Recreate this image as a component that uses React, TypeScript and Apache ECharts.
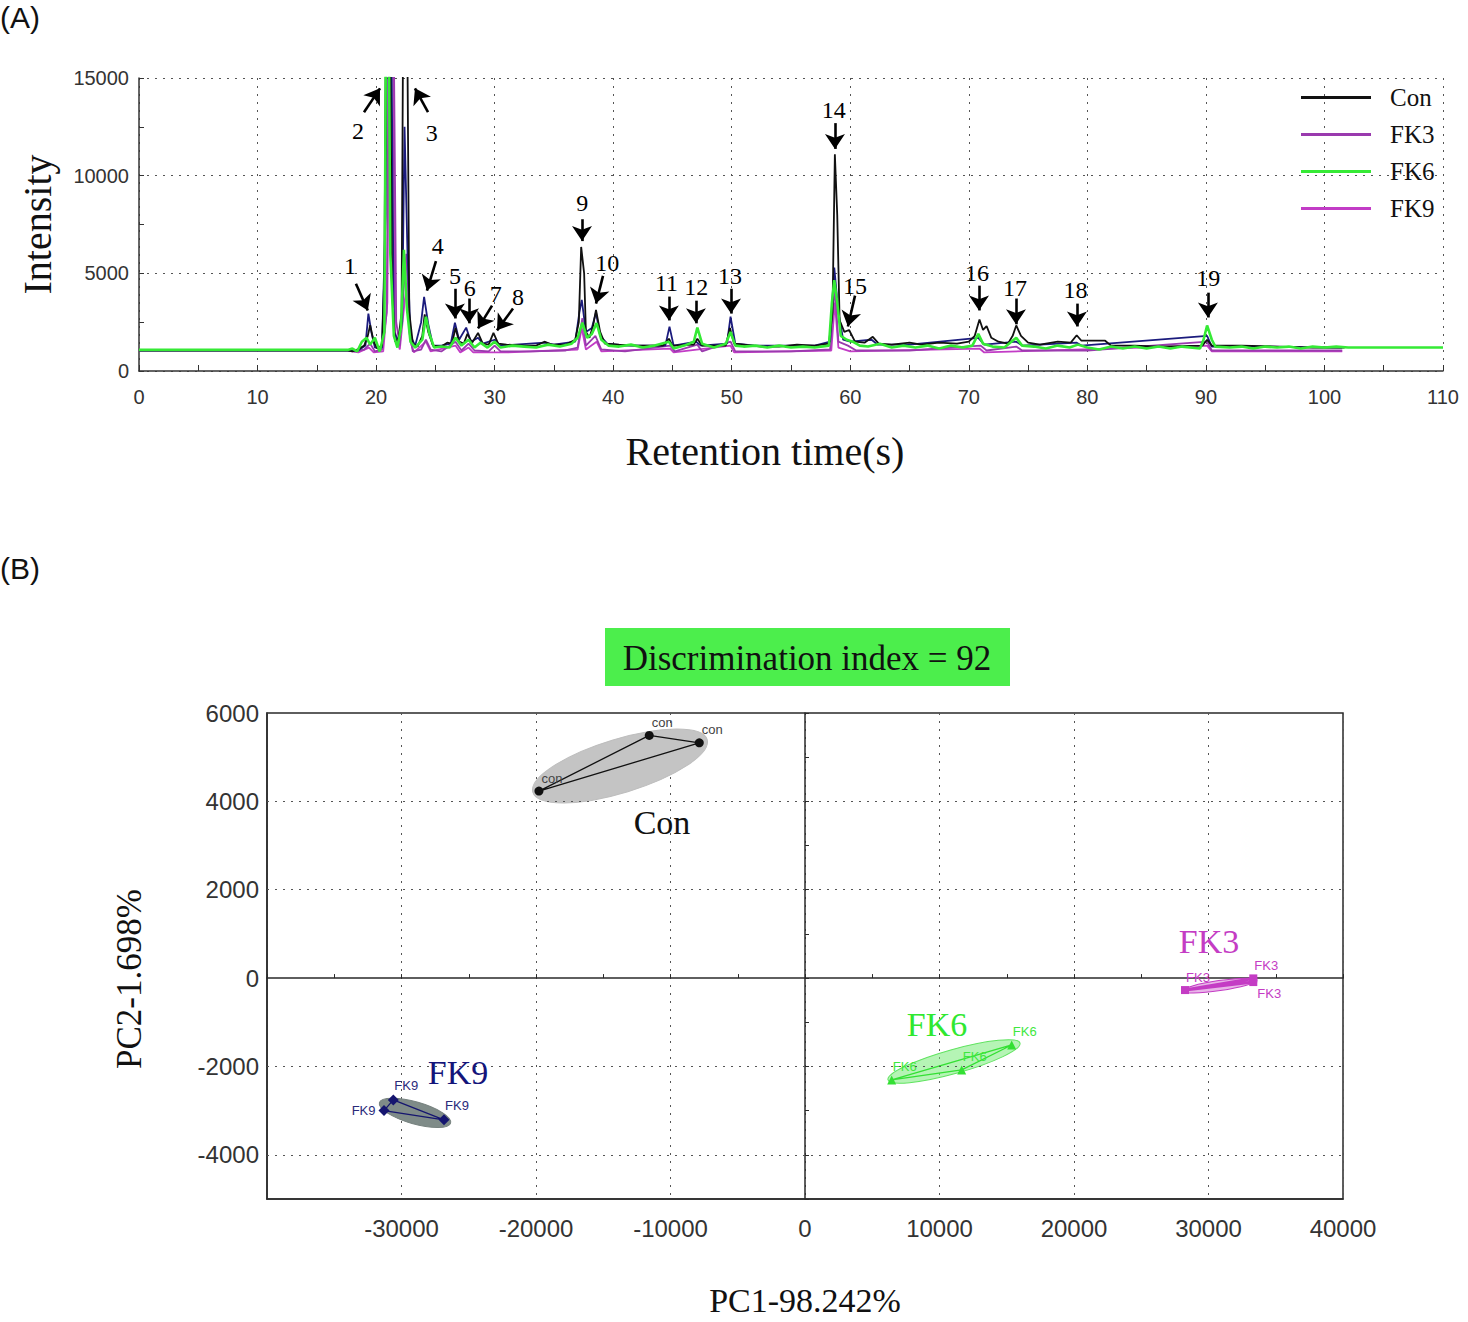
import React, { useEffect, useRef } from "react";
import * as echarts from "echarts";

// ---------------- (A) chromatogram data ----------------
const legendNames = ["Con", "FK3", "FK6", "FK9"];
const xTicks = [0, 110, 10];
const yTicks = [0, 15000, 5000];

const conTrace = [
  [0, 1060], [17.6, 1060], [18.0, 1000], [18.6, 1150], [19.0, 1300], [19.3, 1800], [19.5, 2350], [19.8, 1500], [20.1, 1150], [20.5, 1300],
  [20.7, 5000], [20.85, 20000], [21.15, 20000], [21.35, 4000], [21.6, 1500], [21.9, 1700], [22.15, 3000], [22.3, 20000], [22.6, 20000], [22.8, 3000],
  [23.1, 1400], [23.5, 1250], [23.9, 1800], [24.1, 2900], [24.4, 2000], [24.8, 1300], [25.5, 1250], [26.0, 1450], [26.4, 1400], [26.7, 2200],
  [27.0, 1500], [27.4, 1400], [27.7, 1900], [28.1, 1450], [28.6, 1950], [29.0, 1400], [29.5, 1350], [29.9, 1950], [30.3, 1400], [31.0, 1350],
  [32.5, 1300], [33.5, 1300], [34.2, 1500], [34.8, 1350], [36.0, 1350], [36.8, 1600], [37.1, 2500], [37.3, 6350], [37.55, 5000], [37.7, 2000],
  [38.0, 1700], [38.3, 2300], [38.55, 3130], [38.9, 2000], [39.3, 1400], [40.5, 1350], [42, 1300], [44.2, 1300], [44.7, 1650], [45.0, 1300],
  [46.8, 1350], [47.1, 1650], [47.5, 1300], [49.5, 1300], [49.85, 2200], [50.2, 1400], [51, 1350], [52.5, 1250], [54, 1250], [55.5, 1350],
  [57, 1300], [58.2, 1400], [58.5, 3000], [58.7, 11100], [58.9, 8000], [59.1, 2600], [59.5, 2000], [59.9, 2100], [60.4, 1500], [61.2, 1450],
  [61.9, 1750], [62.4, 1400], [63.5, 1350], [65, 1450], [66, 1350], [67.5, 1450], [69, 1400], [70, 1500], [70.5, 1800], [70.9, 2640],
  [71.2, 2100], [71.5, 2300], [71.9, 1700], [72.5, 1500], [73.3, 1400], [73.7, 1800], [74.0, 2330], [74.4, 1800], [75, 1450], [76, 1350],
  [77.5, 1500], [78.6, 1450], [79.1, 1830], [79.5, 1550], [81.5, 1550], [82, 1300], [84, 1300], [86, 1250], [89.7, 1300], [90.1, 1600],
  [90.5, 1300], [93, 1300], [96, 1250], [99, 1200], [101.7, 1200],
];

const fk3Trace = [
  [0, 1040], [17.6, 1040], [18.2, 1000], [19.0, 1100], [19.5, 1400], [19.9, 1000], [20.5, 1100], [20.9, 3000], [21.1, 20000], [21.45, 20000],
  [21.7, 2500], [22.0, 1300], [22.3, 4000], [22.55, 6000], [22.8, 2000], [23.1, 1000], [23.8, 1100], [24.2, 1600], [24.6, 1100], [25.5, 1000],
  [26.7, 1500], [27.2, 1050], [27.8, 1400], [28.3, 1050], [29.5, 1000], [30.0, 1300], [30.5, 1000], [33, 1000], [36, 1050], [37.0, 1200],
  [37.4, 2700], [37.7, 1300], [38.5, 1800], [39, 1100], [41, 1000], [44.8, 1300], [45.2, 1000], [47.1, 1350], [47.5, 1000], [49.9, 1500],
  [50.3, 1000], [55, 1000], [58.3, 1100], [58.7, 4300], [59.0, 1500], [59.8, 1300], [60.5, 1050], [65, 1050], [71, 1300], [71.5, 1050],
  [74, 1250], [74.5, 1050], [80, 1050], [90.1, 1500], [90.5, 1050], [95, 1050], [101.5, 1050],
];

const fk9Trace = [
  [0, 1050], [17.6, 1050], [18.5, 950], [19.4, 1200], [19.8, 950], [20.6, 1000], [20.95, 3500], [21.15, 20000], [21.4, 20000], [21.6, 2000],
  [22.0, 1100], [22.4, 3500], [22.6, 4500], [22.9, 1500], [23.2, 950], [24.2, 1500], [24.6, 1000], [26.7, 1300], [27.1, 950], [27.8, 1200],
  [28.2, 950], [31, 950], [37.0, 1100], [37.35, 2200], [37.7, 1100], [38.6, 1500], [39.0, 1000], [44.8, 1150], [45.1, 950], [49.9, 1300],
  [50.2, 950], [58.4, 1050], [58.7, 3500], [59.0, 1200], [60, 1000], [70.9, 1150], [71.3, 950], [90.1, 1300], [90.5, 1000], [101.5, 1000],
];

const blueTrace = [
  [0, 1050], [17.6, 1050], [18.5, 1050], [19.1, 1300], [19.35, 2940], [19.6, 2000], [19.9, 1200], [20.5, 1200], [20.8, 8000], [20.95, 20000],
  [21.25, 20000], [21.5, 2000], [21.9, 1500], [22.2, 2500], [22.4, 12500], [22.65, 6000], [22.9, 1800], [23.3, 1300], [23.8, 2500], [24.05, 3790],
  [24.4, 2400], [24.8, 1300], [25.5, 1300], [26.3, 1400], [26.65, 2470], [27.0, 1600], [27.6, 2220], [28.0, 1500], [28.6, 1700], [29, 1400],
  [30, 1600], [30.5, 1300], [34.2, 1450], [35, 1350], [36.8, 1500], [37.15, 3000], [37.35, 3640], [37.7, 2000], [38.2, 2200], [38.55, 3000],
  [38.9, 1800], [39.5, 1400], [41, 1300], [44.4, 1300], [44.75, 2270], [45.1, 1300], [47, 1500], [47.4, 1300], [49.6, 1400], [49.9, 2780],
  [50.3, 1400], [52, 1300], [57, 1300], [58.3, 1500], [58.65, 5300], [59.0, 3000], [59.4, 1600], [60, 1500], [61.8, 1600], [62.3, 1350],
  [65, 1350], [70.8, 1700], [71.3, 1350], [74, 1500], [74.5, 1300], [79.1, 1450], [79.5, 1300], [90.1, 1800], [90.5, 1250], [95, 1250],
  [101.5, 1200],
];

const fk6Trace = [
  [0, 1080], [17.6, 1080], [18.0, 1150], [18.4, 1000], [18.8, 1500], [19.2, 1700], [19.5, 1350], [19.9, 1700], [20.3, 1000], [20.7, 2000],
  [20.85, 20000], [21.05, 20000], [21.2, 6000], [21.5, 1800], [21.8, 1200], [22.1, 2200], [22.35, 6200], [22.6, 3200], [22.9, 1500], [23.3, 1200],
  [23.9, 1600], [24.2, 2780], [24.5, 1900], [24.9, 1200], [25.5, 1250], [26.2, 1200], [26.7, 1700], [27.2, 1300], [27.8, 1600], [28.3, 1200],
  [28.8, 1450], [29.4, 1200], [30, 1500], [30.5, 1200], [31.5, 1300], [32.5, 1250], [33.5, 1200], [34.5, 1350], [35.5, 1250], [36.5, 1400],
  [37.0, 1700], [37.4, 2470], [37.8, 1700], [38.2, 1900], [38.6, 2450], [39.0, 1600], [39.6, 1300], [40.5, 1250], [41.5, 1350], [42.5, 1200],
  [43.5, 1300], [44.7, 1500], [45.1, 1150], [46, 1300], [46.8, 1500], [47.1, 2220], [47.5, 1400], [48.5, 1200], [49.5, 1400], [49.9, 2000],
  [50.3, 1300], [51, 1250], [52, 1300], [53, 1200], [54, 1300], [55, 1200], [56, 1250], [57, 1200], [58.2, 1300], [58.45, 3500],
  [58.65, 4650], [58.9, 3500], [59.2, 1800], [59.7, 1600], [60.2, 1500], [60.8, 1300], [61.5, 1250], [62.5, 1400], [63.5, 1200], [64.5, 1300],
  [65.5, 1200], [66.5, 1300], [67.5, 1150], [68.5, 1300], [69.5, 1200], [70.3, 1300], [70.8, 1900], [71.2, 1400], [72, 1250], [73, 1200],
  [74, 1700], [74.5, 1300], [75.5, 1250], [76.5, 1150], [77.5, 1300], [78.5, 1200], [79.2, 1350], [80, 1200], [81, 1100], [82, 1250],
  [83, 1150], [84, 1250], [85, 1150], [86, 1250], [87, 1150], [88, 1250], [89.5, 1150], [89.8, 1600], [90.1, 2330], [90.5, 1600],
  [90.8, 1250], [92, 1200], [93, 1250], [94, 1150], [95, 1250], [96, 1200], [97, 1250], [98, 1150], [99, 1250], [100, 1200],
  [101, 1250], [102, 1200], [110, 1200],
];

// peak annotations: label position [t, intensity]; arrow start and end [t, intensity]
const peakIds = ["1", "2", "3", "4", "5", "6", "7", "8", "9", "10", "11", "12", "13", "14", "15", "16", "17", "18", "19"];
const peakLabelPos = [
  [17.8, 5380], [18.47, 12280], [24.7, 12180], [25.2, 6400], [26.65, 4870], [27.9, 4260], [30.1, 3960], [31.97, 3810], [37.4, 8580], [39.5, 5530],
  [44.5, 4520], [47.0, 4310], [49.85, 4870], [58.6, 13350], [60.4, 4370], [70.7, 5030], [73.9, 4260], [79.0, 4160], [90.2, 4770],
];
const arrowStart = [
  [18.3, 4470], [18.98, 13250], [24.38, 13250], [25.05, 5630], [26.65, 4210], [27.84, 3710], [29.78, 3350], [31.55, 3200], [37.37, 7770], [39.14, 4870],
  [44.7, 3810], [46.98, 3600], [49.94, 4210], [58.71, 12690], [60.4, 3860], [70.86, 4370], [73.98, 3710], [79.12, 3450], [90.17, 4010],
];
const arrowEnd = [
  [19.3, 3100], [20.33, 14470], [23.28, 14470], [24.29, 4110], [26.65, 2690], [27.84, 2440], [28.6, 2180], [30.2, 2080], [37.37, 6650], [38.55, 3450],
  [44.7, 2590], [46.98, 2440], [49.94, 2940], [58.71, 11370], [59.8, 2280], [70.86, 3100], [73.98, 2390], [79.12, 2280], [90.17, 2740],
];

// ---------------- (B) PCA data ----------------
const groupNames = ["Con", "FK9", "FK6", "FK3"];
const pointTags = ["con", "FK9", "FK6", "FK3"];
const conPts = [[-19780, 4233], [-11580, 5492], [-7860, 5324]];
const fk9Pts = [[-31300, -2999], [-30610, -2757], [-26840, -3209]];
const fk6Pts = [[6445, -2305], [11650, -2079], [15368, -1514]];
const fk3Pts = [[28253, -271], [33330, -7], [33330, -90]];
// ellipse: center x, y, major-axis end x, y, minor-axis end x, y
const ellipseCon = [-13755, 4802, -7279, 5401, -13171, 4219];
const ellipseFk9 = [-28996, -3051, -26350, -3281, -29222, -3290];
const ellipseFk6 = [11078, -1887, 15985, -1469, 11316, -2149];
const ellipseFk3 = [30818, -169, 33606, -45, 30870, -281];
const groupLabelPos = [[-10632, 3525], [-25799, -2147], [9814, -1040], [30037, 836]];
const pcaXRange = [-40000, 40000, 10000];
const pcaYRange = [-5000, 6000, 1000];
const pcaGridY = [4000, 2000, -2000, -4000];

// ---------------- styles ----------------
const SERIF = "Liberation Serif";
const SANS = "Liberation Sans";
const traceColors = { con: "#111111", fk3: "#9a3aae", fk6: "#35ea35", fk9: "#c23cc6", blue: "#1b1b7d" };
const groupColors = ["#111111", "#15156f", "#33e033", "#c43cc4"];
const groupLabelColors = ["#111111", "#14147a", "#30e830", "#c43cc4"];
const tagColors = ["#444444", "#2a2a7a", "#3ee83e", "#c43cc4"];
const symbols = ["circle", "diamond", "triangle", "rect"];
const symbolSizes = [9, 11, 9, 8];
const ellipseFill = ["#c4c4c4", "#7f8b88", "rgba(120,235,120,0.55)", "rgba(205,90,205,0.45)"];
const ellipseStroke = ["#bdbdbd", "#77827f", "#5fe35f", "#c43cc4"];
// per-point tag placement [group][point]: "tr" = above right, "l" = left, "br" = below right
const tagPlacement = [["tr", "tr", "tr"], ["l", "tr", "tr"], ["tr", "tr", "tr"], ["tr", "tr", "br"]];
const dotted = [2, 6];
const noStroke = { textBorderWidth: 0, textBorderColor: "transparent", textShadowBlur: 0 };

const option: any = {
  animation: false,
  backgroundColor: "#ffffff",
  grid: [
    { left: 139, top: 78, width: 1304, height: 293, outerBoundsMode: "none", containLabel: false },
    {
      left: 267, top: 713, width: 1076, height: 486, outerBoundsMode: "none", containLabel: false,
      show: true, borderColor: "#2a2a2a", borderWidth: 1.5, backgroundColor: "transparent",
    },
  ],
  legend: {
    data: legendNames,
    orient: "vertical",
    left: 1296,
    top: 80,
    itemWidth: 70,
    itemHeight: 3,
    itemGap: 12,
    icon: "rect",
    textStyle: { fontFamily: SERIF, fontSize: 25, color: "#111", padding: [0, 0, 0, 14] },
  },
  graphic: [
    { type: "text", left: 0, top: 2, style: { text: "(A)", font: `30px ${SANS}`, fill: "#111" } },
    { type: "text", left: 0, top: 553, style: { text: "(B)", font: `30px ${SANS}`, fill: "#111" } },
    { type: "rect", shape: { x: 605, y: 628, width: 405, height: 58 }, style: { fill: "#4cee4c" } },
    {
      type: "text", x: 807, y: 658,
      style: { text: "Discrimination index = 92", font: `35px ${SERIF}`, fill: "#111", align: "center", verticalAlign: "middle" },
    },
  ],
  xAxis: [
    {
      gridIndex: 0, type: "value", min: xTicks[0], max: xTicks[1], interval: xTicks[2],
      name: "Retention time(s)", nameLocation: "middle", nameGap: 60,
      nameTextStyle: { fontFamily: SERIF, fontSize: 40, color: "#111", padding: [0, 52, 0, 0] },
      axisLine: { onZero: false, lineStyle: { color: "#333", width: 1.5 } },
      axisTick: { inside: true, length: 6, lineStyle: { color: "#333" } },
      minorTick: { show: true, splitNumber: 2, length: 6, lineStyle: { color: "#333" } },
      axisLabel: { fontFamily: SANS, fontSize: 20, color: "#333", margin: 16, formatter: (v: number) => String(v) },
      splitLine: { show: true, lineStyle: { color: "#555", type: dotted, width: 1 } },
    },
    {
      gridIndex: 1, type: "value", min: pcaXRange[0], max: pcaXRange[1], interval: pcaXRange[2],
      name: "PC1-98.242%", nameLocation: "middle", nameGap: 84,
      nameTextStyle: { fontFamily: SERIF, fontSize: 34, color: "#111" },
      axisLine: { onZero: false, lineStyle: { color: "#2a2a2a", width: 1.5 } },
      axisTick: { show: false },
      axisLabel: { showMinLabel: false, fontFamily: SANS, fontSize: 24, color: "#333", margin: 17, formatter: (v: number) => String(v) },
      splitLine: { show: true, lineStyle: { color: "#555", type: dotted, width: 1 } },
    },
    {
      gridIndex: 1, type: "value", min: pcaXRange[0], max: pcaXRange[1], interval: pcaXRange[2] / 2, position: "top",
      axisLine: { show: true, onZero: true, onZeroAxisIndex: 1, lineStyle: { color: "#2a2a2a", width: 1.5 } },
      axisTick: { show: true, length: 4, lineStyle: { color: "#2a2a2a" } },
      axisLabel: { show: false },
      splitLine: { show: false },
    },
  ],
  yAxis: [
    {
      gridIndex: 0, type: "value", min: yTicks[0], max: yTicks[1], interval: yTicks[2],
      name: "Intensity", nameLocation: "middle", nameGap: 82, nameRotate: 90,
      nameTextStyle: { fontFamily: SERIF, fontSize: 40, color: "#111" },
      axisLine: { show: true, onZero: false, lineStyle: { color: "#333", width: 1.5 } },
      axisTick: { show: true, inside: true, length: 5, lineStyle: { color: "#333" } },
      minorTick: { show: true, splitNumber: 2, length: 5, lineStyle: { color: "#333" } },
      axisLabel: { fontFamily: SANS, fontSize: 20, color: "#333", margin: 10, formatter: (v: number) => String(v) },
      splitLine: { show: true, lineStyle: { color: "#555", type: dotted, width: 1 } },
    },
    {
      gridIndex: 1, type: "value", min: pcaYRange[0], max: pcaYRange[1], interval: pcaYRange[2],
      name: "PC2-1.698%", nameLocation: "middle", nameGap: 120, nameRotate: 90,
      nameTextStyle: { fontFamily: SERIF, fontSize: 35, color: "#111", padding: [0, 46, 0, 0] },
      axisLine: { show: true, onZero: false, lineStyle: { color: "#2a2a2a", width: 1.5 } },
      axisTick: { show: false },
      axisLabel: {
        fontFamily: SANS, fontSize: 24, color: "#333", margin: 8,
        formatter: (v: number) => (v % 2000 === 0 ? String(v) : ""),
      },
      splitLine: { show: false },
    },
    {
      gridIndex: 1, type: "value", min: pcaYRange[0], max: pcaYRange[1], interval: pcaYRange[2], position: "right",
      axisLine: { show: true, onZero: true, onZeroAxisIndex: 1, lineStyle: { color: "#2a2a2a", width: 1.5 } },
      axisTick: { show: true, length: 4, lineStyle: { color: "#2a2a2a" } },
      axisLabel: { show: false },
      splitLine: { show: false },
    },
  ],
  series: [] as any[],
};

const traceSeries = (name: string, data: number[][], color: string, width: number) => ({
  name, type: "line", xAxisIndex: 0, yAxisIndex: 0, data, color,
  showSymbol: false, symbol: "none", clip: true, silent: true,
  lineStyle: { color, width },
});

option.series.push(traceSeries("FK9", fk9Trace, traceColors.fk9, 1.8));
option.series.push(traceSeries("FK3", fk3Trace, traceColors.fk3, 1.8));
option.series.push(traceSeries("FK9 replicate", blueTrace, traceColors.blue, 1.8));
option.series.push(traceSeries("Con", conTrace, traceColors.con, 1.8));
option.series.push(traceSeries("FK6", fk6Trace, traceColors.fk6, 2.6));
// arrows as a separate line-less series carrying the markLines
option.series.push({
  type: "line", xAxisIndex: 0, yAxisIndex: 0, data: [], silent: true, z: 6,
  markLine: {
    silent: true,
    symbol: ["none", "arrow"],
    symbolSize: 15,
    itemStyle: { color: "#000" },
    lineStyle: { color: "#000", width: 2.6, type: "solid" },
    label: { show: false },
    data: arrowStart.map((s, i) => [{ coord: s }, { coord: arrowEnd[i] }]),
  },
});
option.series.push({
  type: "scatter", xAxisIndex: 0, yAxisIndex: 0, symbolSize: 0, silent: true, z: 7,
  itemStyle: { opacity: 1 },
  data: peakLabelPos.map((p, i) => ({ value: p, name: peakIds[i] })),
  label: {
    show: true, position: "inside", formatter: "{b}",
    fontFamily: SERIF, fontSize: 24, color: "#000", ...noStroke,
  },
});

// PCA: ellipses
const ellipses = [ellipseCon, ellipseFk9, ellipseFk6, ellipseFk3];
option.series.push({
  type: "custom", xAxisIndex: 1, yAxisIndex: 1, silent: true, z: 1,
  data: ellipses,
  renderItem: (params: any, api: any) => {
    const c = api.coord([api.value(0), api.value(1)]);
    const m = api.coord([api.value(2), api.value(3)]);
    const n = api.coord([api.value(4), api.value(5)]);
    const rx = Math.hypot(m[0] - c[0], m[1] - c[1]);
    const ry = Math.hypot(n[0] - c[0], n[1] - c[1]);
    const ang = Math.atan2(m[1] - c[1], m[0] - c[0]);
    const i = params.dataIndex;
    return {
      type: "ellipse", x: c[0], y: c[1], rotation: -ang,
      shape: { cx: 0, cy: 0, rx, ry },
      style: { fill: ellipseFill[i], stroke: ellipseStroke[i], lineWidth: 1 },
    };
  },
});

const tagLabel = (place: string, color: string) => {
  const base = { show: true, formatter: "{b}", fontFamily: SANS, fontSize: 13, color, ...noStroke };
  if (place === "l") return { ...base, position: "left", distance: 3 };
  if (place === "br") return { ...base, position: "bottom", offset: [16, -4] };
  return { ...base, position: "top", offset: [13, 3] };
};

// reference dotted lines + PCA groups
const groups = [conPts, fk9Pts, fk6Pts, fk3Pts];
groups.forEach((pts, gi) => {
  const s: any = {
    name: groupNames[gi] + " link", type: "line", xAxisIndex: 1, yAxisIndex: 1, silent: true, z: 3,
    data: [...pts, pts[0]], showSymbol: false, symbol: "none",
    lineStyle: { color: groupColors[gi], width: gi === 3 ? 3 : 1.3 },
  };
  if (gi === 0) {
    s.markLine = {
      silent: true, symbol: "none", label: { show: false },
      lineStyle: { color: "#555", type: dotted, width: 1 },
      data: pcaGridY.map((v) => ({ yAxis: v })),
    };
  }
  option.series.push(s);
  option.series.push({
    name: groupNames[gi] + " points", type: "scatter", xAxisIndex: 1, yAxisIndex: 1, silent: true, z: 4,
    symbol: symbols[gi], symbolSize: symbolSizes[gi],
    itemStyle: { color: groupColors[gi], opacity: 1 },
    data: pts.map((p, pi) => ({ value: p, name: pointTags[gi], label: tagLabel(tagPlacement[gi][pi], tagColors[gi]) })),
  });
});
option.series.push({
  type: "scatter", xAxisIndex: 1, yAxisIndex: 1, symbolSize: 0, silent: true, z: 5,
  itemStyle: { opacity: 1 },
  data: groupLabelPos.map((p, i) => ({
    value: p, name: groupNames[i],
    label: { color: groupLabelColors[i] },
  })),
  label: { show: true, position: "inside", formatter: "{b}", fontFamily: SERIF, fontSize: 34, ...noStroke },
});

export default function App() {
  const ref = useRef<HTMLDivElement>(null);
  useEffect(() => {
    document.body.style.margin = "0";
    const chart = echarts.init(ref.current as HTMLDivElement, null, { renderer: "svg" });
    chart.setOption(option);
    return () => chart.dispose();
  }, []);
  return <div ref={ref} style={{ width: 1468, height: 1322 }} />;
}
